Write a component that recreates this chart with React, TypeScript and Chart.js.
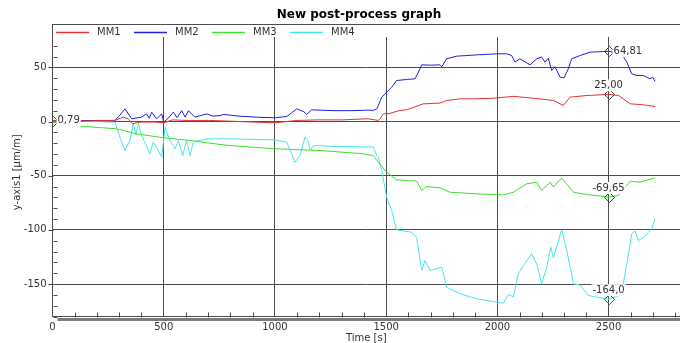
import React, { useEffect, useRef } from 'react';
import { Chart, registerables } from 'chart.js';

Chart.register(...registerables);

// ---------- data ----------
const seriesNames = ['MM1', 'MM2', 'MM3', 'MM4'];

const mm1Time = [0, 130, 280, 318, 340, 360, 400, 460, 500, 540, 600, 700, 800, 900, 1000, 1100, 1200, 1300, 1418, 1465, 1472, 1487, 1517, 1562, 1592, 1667, 1742, 1772, 1832, 1892, 1982, 2072, 2162, 2252, 2297, 2327, 2402, 2500, 2545, 2597, 2657, 2709];
const mm1Values = [0.8, 0.5, 1, 4, 2.5, -2, -0.5, -0.5, -1.2, 1.5, 1, 1, 0.3, -0.5, -1.2, 1, 1.5, 1.5, 2.5, 1, 2.5, 7, 7.5, 10.2, 10.8, 16.3, 17, 19.4, 20.9, 20.9, 21.5, 23.2, 21.5, 19.4, 14.8, 22.5, 24, 25, 24, 16.3, 15.4, 13.8];

const mm2Time = [0, 130, 280, 300, 326, 356, 400, 423, 435, 446, 468, 491, 500, 520, 543, 560, 581, 596, 611, 640, 693, 720, 753, 770, 843, 920, 1000, 1053, 1075, 1098, 1130, 1143, 1165, 1198, 1265, 1343, 1418, 1442, 1458, 1465, 1480, 1502, 1525, 1547, 1592, 1630, 1652, 1660, 1700, 1742, 1750, 1772, 1817, 1907, 2001, 2041, 2064, 2079, 2101, 2147, 2177, 2199, 2214, 2229, 2244, 2259, 2282, 2300, 2319, 2334, 2372, 2417, 2500, 2559, 2582, 2604, 2627, 2656, 2686, 2698, 2709];
const mm2Values = [0.79, 0.9, 1, 5, 11.7, 2.5, 4, 7.1, 3, 8.6, 2.5, 7, -0.6, 3, 8.6, 3.5, 10, 4, 10, 4, 7, 5, 5.5, 6.5, 4.9, 4, 3.4, 4.6, 8, 11.7, 9, 6.5, 10.8, 10.5, 10, 10, 10.5, 10.2, 11.7, 14.8, 22.5, 27, 31.7, 37.8, 38.8, 39.4, 48.6, 52.3, 52, 52.3, 50.5, 57.9, 60.3, 61.5, 62.5, 62.5, 61, 54.8, 57.9, 52.3, 57.9, 59.4, 54.8, 58.5, 47, 50.5, 40.9, 40.3, 48.6, 57.9, 60.9, 64, 64.81, 62, 54.8, 44, 42.5, 42.5, 39.4, 41, 36.9];

const mm3Time = [0, 60, 128, 289, 378, 498, 618, 753, 798, 1000, 1203, 1382, 1442, 1465, 1502, 1547, 1637, 1660, 1682, 1742, 1787, 1907, 2027, 2072, 2132, 2177, 2199, 2237, 2252, 2289, 2342, 2402, 2500, 2544, 2597, 2642, 2709];
const mm3Values = [-0.5, -2, -4.3, -6.8, -11.4, -15, -17.5, -21.2, -22.2, -25.2, -26.8, -29.5, -31.4, -37.6, -46.8, -53.8, -55.1, -63.7, -60, -61.2, -65.3, -66.8, -67.7, -65.3, -57.5, -56, -63.7, -56, -60.5, -52, -65.3, -67.4, -69.65, -68.3, -55.1, -56, -52];

const mm4Time = [0, 130, 281, 303, 326, 348, 363, 375, 386, 401, 438, 453, 468, 491, 506, 528, 551, 566, 585, 603, 618, 633, 693, 798, 1000, 1053, 1075, 1090, 1113, 1135, 1150, 1158, 1173, 1265, 1442, 1458, 1465, 1480, 1502, 1525, 1547, 1615, 1637, 1660, 1675, 1697, 1750, 1772, 1832, 1907, 2027, 2049, 2072, 2094, 2117, 2154, 2177, 2199, 2222, 2240, 2252, 2289, 2312, 2342, 2372, 2409, 2500, 2544, 2566, 2582, 2604, 2619, 2634, 2657, 2679, 2694, 2709];
const mm4Values = [0.5, 0.3, -0.6, -14.5, -26.8, -17.5, -2.1, -12, -2, -12.9, -29.8, -19, -24, -33, -5.2, -17.5, -25.2, -17.5, -31.4, -17.5, -31.4, -19, -16, -16, -17, -19, -29.8, -37.6, -31.4, -14.5, -18, -26.8, -22.2, -23, -23.5, -31.4, -33, -45.2, -69.9, -82.2, -100, -102.2, -107, -137.5, -128.3, -137.5, -134.5, -153, -159, -163.7, -167.7, -159.7, -162, -140.6, -133, -122.1, -131.4, -149.8, -134.5, -116, -125.7, -100, -119, -149.8, -151, -160.6, -164, -161, -149.8, -131.4, -103.7, -101, -109.8, -107, -102.2, -99, -89.8];

const markerTimes = [0, 2500, 2500, 2500, 2500];
const markerValues = [0.79, 64.81, 25.0, -69.65, -164.0];
const markerLabels = ['0,79', '64,81', '25,00', '-69,65', '-164,0'];

const xTickValues = [0, 500, 1000, 1500, 2000, 2500];
const yTickValues = [-150, -100, -50, 0, 50];

const chartTitle = 'New post-process graph';
const xAxisTitle = 'Time [s]';
const yAxisTitle = 'y-axis1 [µm/m]';

const X_MIN = 0;
const X_MAX = 2821;
const Y_MIN = -180;
const Y_MAX = 90;

// ---------- styles ----------
const seriesColors = ['rgb(228,48,48)', 'rgb(32,32,222)', 'rgb(62,222,46)', 'rgb(70,230,232)'];
const FONT = '"DejaVu Sans", Verdana, sans-serif';
const TEXT_COLOR = '#333333';
const GRID_COLOR = '#4d4d4d';
const markerPlacement = ['right', 'right', 'above', 'above', 'above'];

const overlayPlugin = {
  id: 'overlay',
  beforeDraw(chart: any) {
    const ctx = chart.ctx;
    ctx.save();
    ctx.fillStyle = '#ffffff';
    ctx.fillRect(0, 0, chart.width, chart.height);
    ctx.restore();
  },
  afterDraw(chart: any) {
    const ctx = chart.ctx;
    const ca = chart.chartArea;
    const xs = chart.scales.x;
    const ys = chart.scales.y;
    ctx.save();

    // markers (clipped to plot area)
    ctx.save();
    ctx.beginPath();
    ctx.rect(ca.left, ca.top, ca.right - ca.left, ca.bottom - ca.top);
    ctx.clip();
    ctx.strokeStyle = '#444';
    ctx.lineWidth = 1;
    for (let i = 0; i < markerTimes.length; i++) {
      const px = Math.round(xs.getPixelForValue(markerTimes[i])) + 0.5;
      const py = Math.round(ys.getPixelForValue(markerValues[i])) + 0.5;
      const r = 5;
      ctx.beginPath();
      ctx.moveTo(px, py - r);
      ctx.lineTo(px + r, py);
      ctx.lineTo(px, py + r);
      ctx.lineTo(px - r, py);
      ctx.closePath();
      ctx.stroke();
    }
    ctx.restore();

    // marker labels
    ctx.font = '10px ' + FONT;
    ctx.textBaseline = 'middle';
    for (let i = 0; i < markerTimes.length; i++) {
      const px = xs.getPixelForValue(markerTimes[i]);
      const py = ys.getPixelForValue(markerValues[i]);
      const txt = markerLabels[i];
      const w = ctx.measureText(txt).width;
      let tx: number, ty: number;
      if (markerPlacement[i] === 'right') {
        tx = px + 5;
        ty = py;
      } else {
        tx = px - w / 2;
        ty = py - 9;
      }
      ctx.fillStyle = '#ffffff';
      ctx.fillRect(tx - 1, ty - 6, w + 2, 12);
      ctx.fillStyle = TEXT_COLOR;
      ctx.textAlign = 'left';
      ctx.fillText(txt, tx, ty);
    }

    // legend band at the top of the plot
    ctx.fillStyle = '#ffffff';
    ctx.fillRect(ca.left + 1, ca.top, ca.right - ca.left, 13);
    ctx.strokeStyle = GRID_COLOR;
    ctx.lineWidth = 1;
    ctx.beginPath();
    ctx.moveTo(ca.left, Math.round(ca.top) + 0.5);
    ctx.lineTo(ca.right, Math.round(ca.top) + 0.5);
    ctx.stroke();

    const legendY = ca.top + 8.5;
    let lx = ca.left + 3.5;
    ctx.font = '10px ' + FONT;
    ctx.textAlign = 'left';
    ctx.textBaseline = 'middle';
    for (let i = 0; i < seriesNames.length; i++) {
      ctx.strokeStyle = seriesColors[i];
      ctx.lineWidth = 1.5;
      ctx.beginPath();
      ctx.moveTo(lx, legendY);
      ctx.lineTo(lx + 33, legendY);
      ctx.stroke();
      ctx.fillStyle = TEXT_COLOR;
      ctx.fillText(seriesNames[i], lx + 41, legendY);
      lx += 78;
    }

    // minor / major ticks
    ctx.strokeStyle = GRID_COLOR;
    ctx.lineWidth = 1;
    const axX = Math.round(ca.left) + 0.5;
    for (let v = Y_MIN; v <= Y_MAX; v += 10) {
      const py = Math.round(ys.getPixelForValue(v)) + 0.5;
      if (py < ca.top + 15) continue;
      ctx.beginPath();
      if (v % 50 === 0) {
        ctx.moveTo(axX - 5, py);
        ctx.lineTo(axX, py);
      } else {
        ctx.moveTo(axX, py);
        ctx.lineTo(axX + 4, py);
      }
      ctx.stroke();
    }
    const axY = Math.round(ca.bottom) + 0.5;
    for (let t = 100; t <= X_MAX; t += 100) {
      if (t % 500 === 0) continue;
      const px = Math.round(xs.getPixelForValue(t)) + 0.5;
      ctx.beginPath();
      ctx.moveTo(px, axY);
      ctx.lineTo(px, axY - 5);
      ctx.stroke();
    }

    // scrollbar-like bar under x axis
    ctx.fillStyle = '#7a7a7a';
    ctx.fillRect(ca.left + 5, Math.round(ca.bottom) + 1, ca.right - ca.left - 5, 3);

    // title
    ctx.fillStyle = '#000000';
    ctx.font = 'bold 12px ' + FONT;
    ctx.textAlign = 'center';
    ctx.textBaseline = 'middle';
    ctx.fillText(chartTitle, 359, 14.5);

    // axis titles
    ctx.fillStyle = TEXT_COLOR;
    ctx.font = '10px ' + FONT;
    ctx.fillText(xAxisTitle, (ca.left + ca.right) / 2, 338);
    ctx.save();
    ctx.translate(17, (ca.top + ca.bottom) / 2 + 2);
    ctx.rotate(-Math.PI / 2);
    ctx.fillText(yAxisTitle, 0, 0);
    ctx.restore();

    ctx.restore();
  },
};

function toPoints(t: number[], v: number[]) {
  return t.map((x, i) => ({ x, y: v[i] }));
}

export default function App() {
  const canvasRef = useRef<HTMLCanvasElement | null>(null);

  useEffect(() => {
    const canvas = canvasRef.current;
    if (!canvas) return;
    const times = [mm1Time, mm2Time, mm3Time, mm4Time];
    const values = [mm1Values, mm2Values, mm3Values, mm4Values];
    const chart = new Chart(canvas, {
      type: 'line',
      data: {
        datasets: seriesNames.map((name, i) => ({
          label: name,
          data: toPoints(times[i], values[i]),
          borderColor: seriesColors[i],
          backgroundColor: seriesColors[i],
          borderWidth: 1,
          pointRadius: 0,
          tension: 0,
          fill: false,
        })),
      },
      options: {
        animation: false,
        responsive: false,
        devicePixelRatio: 1,
        events: [],
        layout: { padding: { top: 24, left: 0, right: 0, bottom: 0 } },
        plugins: {
          legend: { display: false },
          title: { display: false },
          tooltip: { enabled: false },
        },
        scales: {
          x: {
            type: 'linear',
            min: X_MIN,
            max: X_MAX,
            afterBuildTicks: (s: any) => {
              s.ticks = xTickValues.map((value) => ({ value }));
            },
            afterFit: (s: any) => {
              s.height = 26.5;
            },
            ticks: {
              autoSkip: false,
              maxRotation: 0,
              padding: 5,
              color: TEXT_COLOR,
              font: { family: FONT, size: 10 },
              callback: (v: any) => String(v),
            },
            grid: { color: GRID_COLOR, drawTicks: false, lineWidth: 1 },
            border: { color: GRID_COLOR, width: 1 },
          },
          y: {
            type: 'linear',
            min: Y_MIN,
            max: Y_MAX,
            afterBuildTicks: (s: any) => {
              s.ticks = yTickValues.map((value) => ({ value }));
            },
            afterFit: (s: any) => {
              s.width = 52.5;
            },
            ticks: {
              autoSkip: false,
              padding: 6,
              color: TEXT_COLOR,
              font: { family: FONT, size: 10 },
              callback: (v: any) => String(v),
            },
            grid: { color: GRID_COLOR, drawTicks: false, lineWidth: 1 },
            border: { color: GRID_COLOR, width: 1 },
          },
        },
      } as any,
      plugins: [overlayPlugin],
    });
    return () => chart.destroy();
  }, []);

  return (
    <div style={{ position: 'absolute', left: 0, top: 0, width: 680, height: 343, background: '#fff' }}>
      <canvas ref={canvasRef} width={680} height={343} style={{ width: 680, height: 343, display: 'block' }} />
    </div>
  );
}
